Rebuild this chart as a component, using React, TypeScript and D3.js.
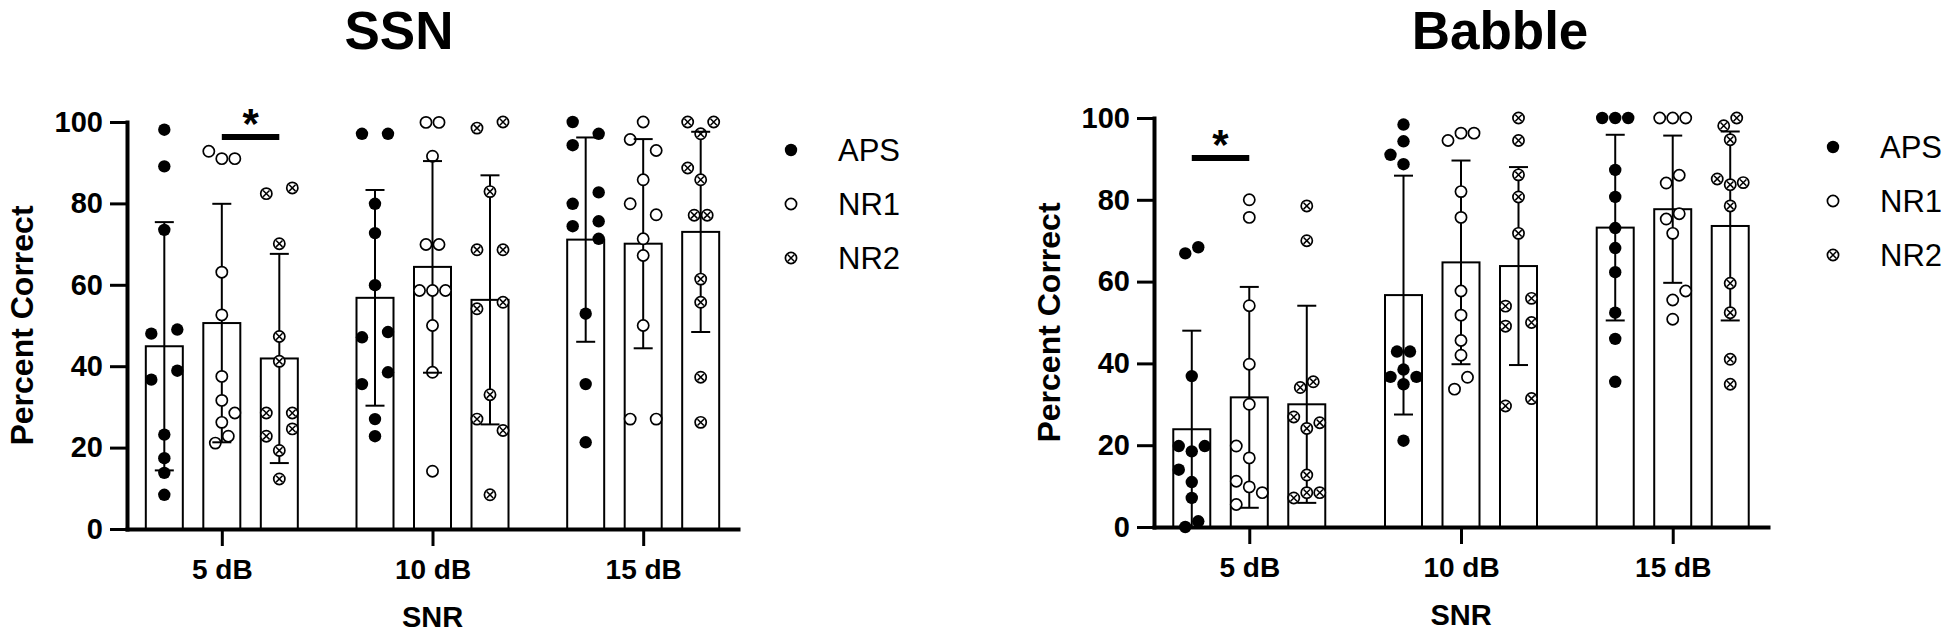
import React, { useEffect, useRef } from "react";
import * as d3 from "d3";

const groups = ["5 dB", "10 dB", "15 dB"];
const seriesNames = ["APS", "NR1", "NR2"];
const yTicks = [0, 20, 40, 60, 80, 100];

// bar heights (mean) and error bars (SD), rows = SNR group, cols = APS/NR1/NR2
const ssnMean = [[44.9, 50.6, 41.9], [56.8, 64.4, 56.3], [71.1, 70.1, 73.0]];
const ssnSd = [[30.5, 29.3, 25.7], [26.5, 26.0, 30.6], [25.1, 25.7, 24.6]];
const babbleMean = [[23.9, 31.7, 30.0], [56.7, 64.7, 63.8], [73.2, 77.7, 73.6]];
const babbleSd = [[24.1, 27.0, 24.1], [29.2, 24.9, 24.2], [22.7, 18.0, 23.1]];

// individual scores: [percent, scatter column]
const ssnAps = [
  [[98.1, 0], [89.1, 0], [73.5, 0], [48.0, -1], [49.0, 1], [36.7, -1], [38.9, 1], [23.2, 0], [17.4, 0], [13.8, 0], [8.4, 0]],
  [[97.1, -1], [97.1, 1], [79.9, 0], [72.7, 0], [59.9, 0], [47.1, -1], [48.4, 1], [35.6, -1], [38.5, 1], [27.0, 0], [22.8, 0]],
  [[100, -1], [97.1, 1], [94.3, -1], [82.7, 1], [79.9, -1], [75.6, 1], [74.4, -1], [71.3, 1], [52.9, 0], [35.6, 0], [21.3, 0]],
];
const ssnNr1 = [
  [[92.8, -1], [91.0, 0], [91.0, 1], [63.1, 0], [52.6, 0], [37.5, 0], [31.6, 0], [28.5, 1], [26.2, 0], [22.8, 0.5], [21.1, -0.5]],
  [[99.9, -0.5], [99.9, 0.5], [91.6, 0], [69.9, -0.5], [69.9, 0.5], [58.6, -1], [58.6, 0], [58.6, 1], [50.0, 0], [38.5, 0], [14.2, 0]],
  [[100, 0], [95.7, -1], [93.0, 1], [85.8, 0], [79.9, -1], [77.2, 1], [71.3, 0], [67.2, 0], [50.0, 0], [27.0, -1], [27.0, 1]],
];
const ssnNr2 = [
  [[82.4, -1], [83.8, 1], [70.1, 0], [47.3, 0], [41.2, 0], [28.5, -1], [28.5, 1], [24.6, 1], [22.8, -1], [19.3, 0], [12.3, 0]],
  [[98.5, -1], [100, 1], [82.9, 0], [68.6, -1], [68.6, 1], [54.1, -1], [55.7, 1], [33.0, 0], [27.0, -1], [24.2, 1], [8.4, 0]],
  [[100, -1], [100, 1], [97.1, 0], [88.7, -1], [85.8, 0], [77.1, -0.5], [77.1, 0.5], [61.4, 0], [55.7, 0], [37.3, 0], [26.2, 0]],
];
const babAps = [
  [[66.9, -0.5], [68.4, 0.5], [36.9, 0], [19.8, -1], [18.5, 0], [19.8, 1], [14.0, -1], [11.0, 0], [7.1, 0], [1.4, 0.5], [0, -0.5]],
  [[98.4, 0], [94.3, 0], [91.0, -1], [88.7, 0], [42.9, -0.5], [42.9, 0.5], [38.5, 0], [36.7, -1], [36.7, 1], [34.9, 0], [21.1, 0]],
  [[100, -1], [100, 0], [100, 1], [87.3, 0], [80.7, 0], [73.1, 0], [68.2, 0], [62.3, 0], [52.4, 0], [46.0, 0], [35.5, 0]],
];
const babNr1 = [
  [[80.0, 0], [75.7, 0], [54.1, 0], [39.8, 0], [30.0, 0], [19.8, -1], [16.9, 0], [11.2, -1], [9.8, 0], [8.4, 1], [5.5, -1]],
  [[94.5, -1], [96.3, 0], [96.3, 1], [82.0, 0], [75.7, 0], [57.7, 0], [51.8, 0], [45.6, 0], [42.0, 0], [36.6, 0.5], [33.7, -0.5]],
  [[100, -1], [100, 0], [100, 1], [86.0, 0.5], [84.1, -0.5], [76.6, 0.5], [75.3, -0.5], [71.8, 0], [57.7, 1], [55.5, 0], [50.8, 0]],
];
const babNr2 = [
  [[78.5, 0], [70.0, 0], [34.1, -0.5], [35.5, 0.5], [26.9, -1], [24.1, 0], [25.5, 1], [12.7, 0], [7.1, -1], [8.4, 0], [8.4, 1]],
  [[100, 0], [94.5, 0], [86.1, 0], [80.7, 0], [71.8, 0], [55.9, 1], [54.0, -1], [50.0, 1], [49.1, -1], [31.4, 1], [29.6, -1]],
  [[98.1, -0.5], [100, 0.5], [94.7, 0], [85.1, -1], [83.7, 0], [84.2, 1], [78.5, 0], [59.6, 0], [52.4, 0], [41.0, 0], [34.9, 0]],
];

// significance brackets: [group, from series, to series, height]
const ssnSig = ["5 dB", "NR1", "NR2", 96.3];
const babbleSig = ["5 dB", "APS", "NR1", 90.2];

const FONT = "'Liberation Sans', Arial, Helvetica, sans-serif";

function drawMarker(g, series, cx, cy) {
  if (series === "APS") {
    g.append("circle").attr("cx", cx).attr("cy", cy).attr("r", 6.2).attr("fill", "#000");
    return;
  }
  g.append("circle").attr("cx", cx).attr("cy", cy).attr("r", 5.6)
    .attr("fill", "#fff").attr("stroke", "#000").attr("stroke-width", 1.7);
  if (series === "NR2") {
    const d = 3.2;
    g.append("path")
      .attr("d", `M${cx - d},${cy - d}L${cx + d},${cy + d}M${cx - d},${cy + d}L${cx + d},${cy - d}`)
      .attr("stroke", "#000").attr("stroke-width", 1.5);
  }
}

function drawPanel(svg, cfg, title, means, sds, pts, sig) {
  const g = svg.append("g").attr("font-family", FONT);
  const y = d3.scaleLinear().domain([0, 100]).range([cfg.yBottom, cfg.yTop]);
  const x = d3.scalePoint().domain(groups).range([cfg.x0, cfg.x1]).padding(0.45);
  const xs = d3.scalePoint().domain(seriesNames).range([-57.5, 57.5]);
  const barW = 37;
  const cap = 9.5;
  const col = 13;
  const cx = (gi, si) => x(groups[gi]) + xs(seriesNames[si]);

  // bars
  groups.forEach((grp, gi) => {
    seriesNames.forEach((s, si) => {
      g.append("rect")
        .attr("x", cx(gi, si) - barW / 2)
        .attr("y", y(means[gi][si]))
        .attr("width", barW)
        .attr("height", y(0) - y(means[gi][si]))
        .attr("fill", "#fff")
        .attr("stroke", "#000")
        .attr("stroke-width", 2);
    });
  });

  // error stems
  groups.forEach((grp, gi) => {
    seriesNames.forEach((s, si) => {
      const lo = Math.max(0, means[gi][si] - sds[gi][si]);
      const hi = means[gi][si] + sds[gi][si];
      g.append("line").attr("x1", cx(gi, si)).attr("x2", cx(gi, si))
        .attr("y1", y(lo)).attr("y2", y(hi))
        .attr("stroke", "#000").attr("stroke-width", 2);
    });
  });

  // individual points
  groups.forEach((grp, gi) => {
    seriesNames.forEach((s, si) => {
      pts[si][gi].forEach(([v, c]) => drawMarker(g, s, cx(gi, si) + c * col, y(v)));
    });
  });

  // error caps
  groups.forEach((grp, gi) => {
    seriesNames.forEach((s, si) => {
      const lo = Math.max(0, means[gi][si] - sds[gi][si]);
      const hi = means[gi][si] + sds[gi][si];
      [lo, hi].forEach(v => {
        g.append("line").attr("x1", cx(gi, si) - cap).attr("x2", cx(gi, si) + cap)
          .attr("y1", y(v)).attr("y2", y(v))
          .attr("stroke", "#000").attr("stroke-width", 2);
      });
    });
  });

  // axes
  const yAxis = g.append("g")
    .attr("transform", `translate(${cfg.x0},0)`)
    .call(d3.axisLeft(y).tickValues(yTicks).tickSize(17).tickSizeOuter(0).tickPadding(7));
  const xAxis = g.append("g")
    .attr("transform", `translate(0,${cfg.yBottom})`)
    .call(d3.axisBottom(x).tickSize(17).tickSizeOuter(0).tickPadding(13));
  [yAxis, xAxis].forEach(a => {
    a.select(".domain").attr("stroke-width", 4).attr("stroke-linecap", "square");
    a.selectAll(".tick line").attr("stroke-width", 3);
    a.selectAll(".tick text")
      .attr("font-family", FONT).attr("font-weight", "bold")
      .attr("font-size", 29).attr("fill", "#000");
  });
  xAxis.selectAll(".tick text").attr("font-size", 28);

  // axis titles
  g.append("text")
    .attr("transform", `translate(${cfg.x0 - 94},${(cfg.yTop + cfg.yBottom) / 2}) rotate(-90)`)
    .attr("text-anchor", "middle").attr("font-weight", "bold").attr("font-size", 32)
    .text("Percent Correct");
  g.append("text")
    .attr("x", x(groups[1])).attr("y", cfg.yBottom + 98)
    .attr("text-anchor", "middle").attr("font-weight", "bold").attr("font-size", 29)
    .text("SNR");

  // chart title
  g.append("text")
    .attr("x", cfg.titleX).attr("y", 49)
    .attr("text-anchor", "middle").attr("font-weight", "bold").attr("font-size", 53)
    .text(title);

  // significance bracket
  const [sg, sa, sb, sv] = sig;
  const gi = groups.indexOf(sg);
  const xa = cx(gi, seriesNames.indexOf(sa));
  const xb = cx(gi, seriesNames.indexOf(sb));
  g.append("line").attr("x1", xa).attr("x2", xb).attr("y1", y(sv)).attr("y2", y(sv))
    .attr("stroke", "#000").attr("stroke-width", 6);
  g.append("text")
    .attr("x", (xa + xb) / 2).attr("y", y(sv) + 1)
    .attr("text-anchor", "middle").attr("font-weight", "bold").attr("font-size", 42)
    .text("*");

  // legend
  seriesNames.forEach((s, si) => {
    const ly = cfg.legendY + si * 54;
    drawMarker(g, s, cfg.legendX, ly);
    g.append("text")
      .attr("x", cfg.legendX + 47).attr("y", ly + 11)
      .attr("font-size", 31)
      .text(s);
  });
}

const App = () => {
  const svgRef = useRef(null);

  useEffect(() => {
    const svg = d3.select(svgRef.current);
    svg.selectAll("*").remove();

    drawPanel(svg,
      { x0: 127, x1: 738, yTop: 122, yBottom: 529, titleX: 399, legendX: 791, legendY: 150 },
      "SSN", ssnMean, ssnSd, [ssnAps, ssnNr1, ssnNr2], ssnSig);
    drawPanel(svg,
      { x0: 1154, x1: 1768, yTop: 118, yBottom: 527, titleX: 1500, legendX: 1833, legendY: 147 },
      "Babble", babbleMean, babbleSd, [babAps, babNr1, babNr2], babbleSig);
  }, []);

  return (
    <svg
      ref={svgRef}
      width={1950}
      height={638}
      style={{ position: "absolute", left: 0, top: 0, background: "#fff" }}
    />
  );
};

export default App;
